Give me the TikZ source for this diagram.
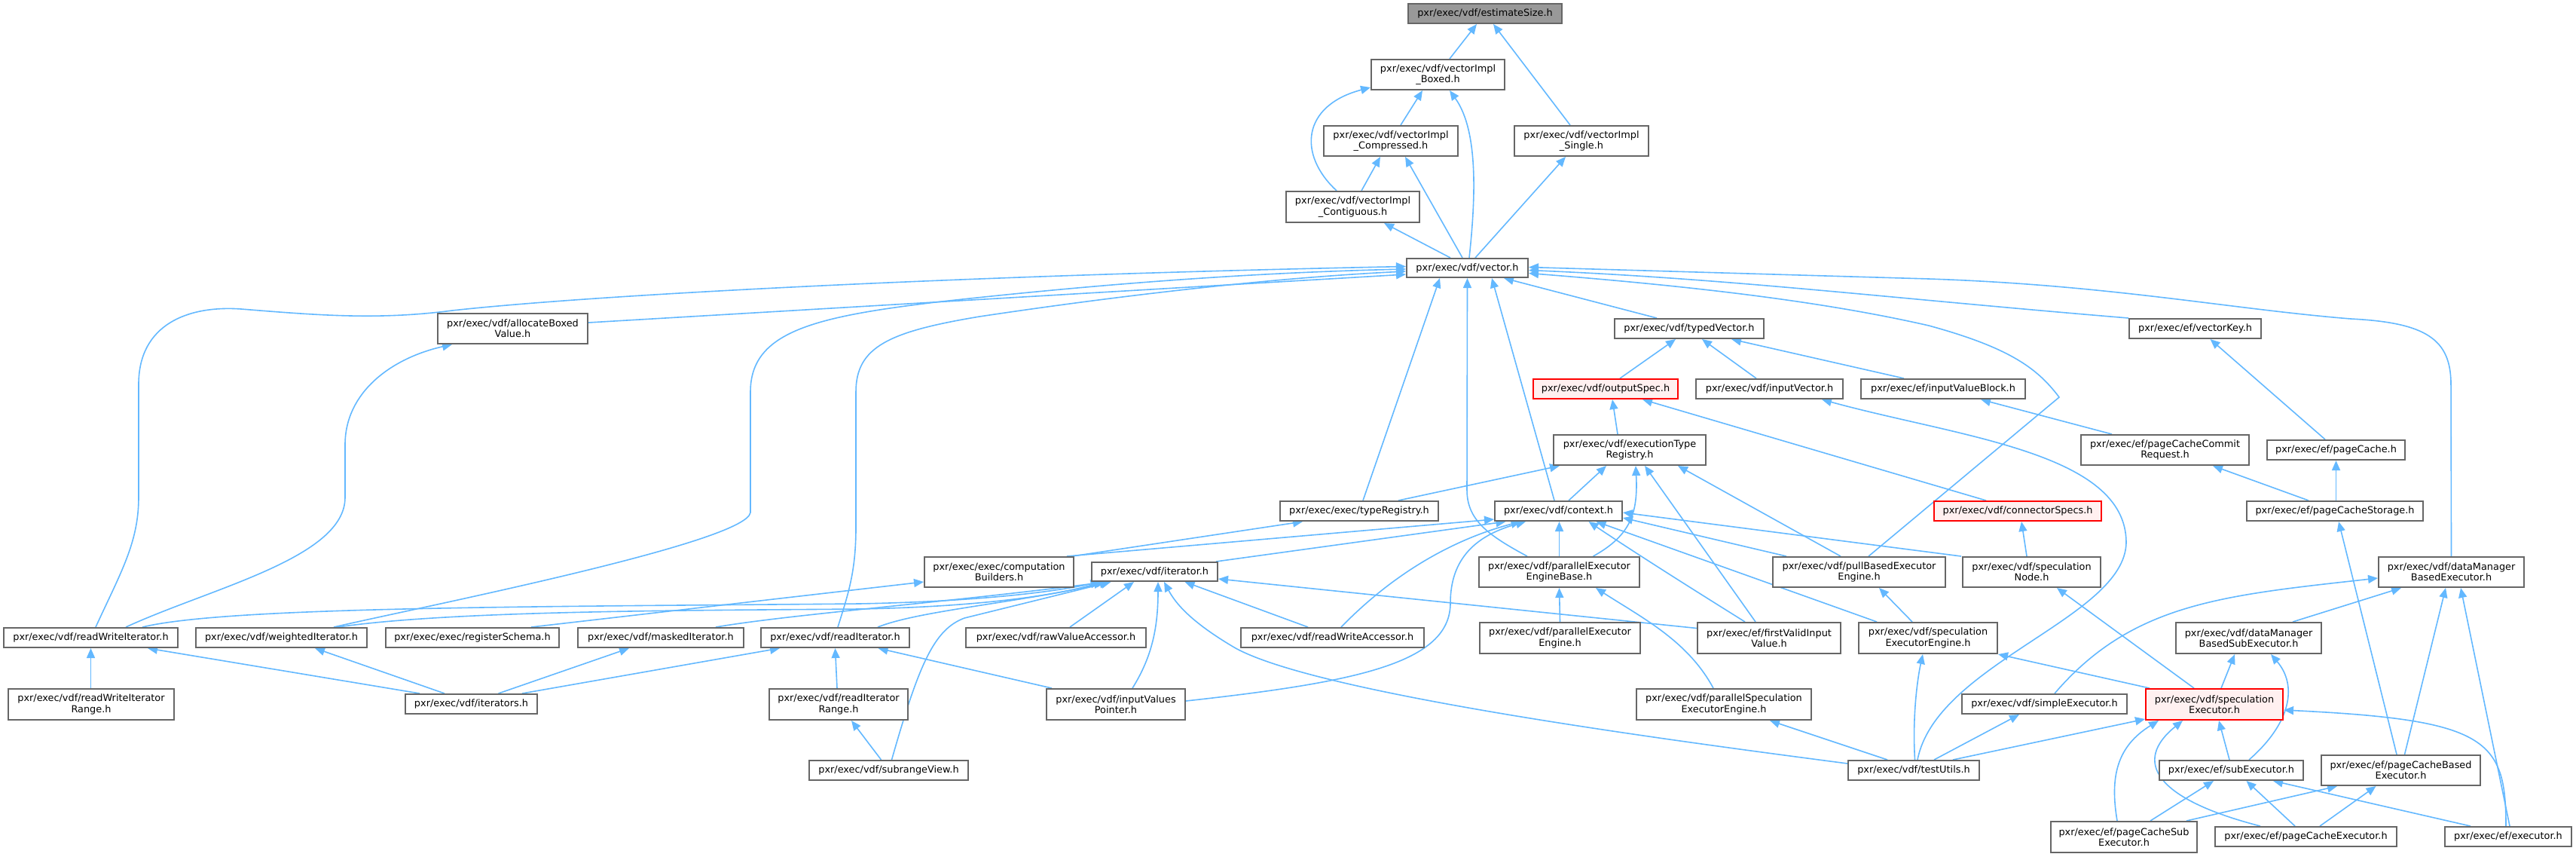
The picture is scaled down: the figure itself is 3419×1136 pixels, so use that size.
\documentclass[tikz,border=0pt]{standalone}
\usepackage{tikz}
\usepackage{fontspec}
\newfontfamily\dxfont{DejaVu Sans}
\usetikzlibrary{arrows.meta,calc}
\pgfdeclarelayer{bg}
\pgfsetlayers{bg,main}
\definecolor{edgeblue}{HTML}{63B8FF}
\definecolor{nodegray}{HTML}{666666}
\definecolor{rootfill}{HTML}{999999}
\definecolor{redfill}{HTML}{FFF0F0}
\tikzset{
 nd/.style={draw=nodegray, fill=white, line width=1pt, inner sep=0pt, align=center, font={\dxfont\fontsize{6.43pt}{7.15pt}\selectfont}},
 rootnd/.style={nd, fill=rootfill},
 rednd/.style={nd, draw=red, fill=redfill},
 edg/.style={draw=edgeblue, line width=0.8pt, -{Triangle[length=6.5pt,width=5.5pt]}}
}
\newcommand\dnode[7][nd]{\node[#1, minimum width={#5*0.5pt}, minimum height={#6*0.5pt}] (#2) at (#3,#4) {#7};}
\begin{document}
\begin{tikzpicture}[x=0.5pt,y=-0.5pt]
\useasboundingbox (0,0) rectangle (3419,1136);
\dnode[rootnd]{est}{1971}{18}{204}{26}{pxr/exec/vdf/estimateSize.h}
\dnode{boxed}{1908.5}{99}{177}{40}{pxr/exec/vdf/vectorImpl\\\_Boxed.h}
\dnode{compr}{1846}{187}{178}{40}{pxr/exec/vdf/vectorImpl\\\_Compressed.h}
\dnode{single}{2099}{187}{178}{40}{pxr/exec/vdf/vectorImpl\\\_Single.h}
\dnode{contig}{1795.5}{274.5}{177}{41}{pxr/exec/vdf/vectorImpl\\\_Contiguous.h}
\dnode{vector}{1947.5}{355.5}{161}{25}{pxr/exec/vdf/vector.h}
\dnode{alloc}{680.5}{436}{199}{40}{pxr/exec/vdf/allocateBoxed\\Value.h}
\dnode{typedv}{2242}{436}{198}{26}{pxr/exec/vdf/typedVector.h}
\dnode{vkey}{2913.5}{436}{175}{26}{pxr/exec/ef/vectorKey.h}
\dnode[rednd]{outspec}{2131}{516}{192}{26}{pxr/exec/vdf/outputSpec.h}
\dnode{inputvec}{2348.5}{516}{195}{26}{pxr/exec/vdf/inputVector.h}
\dnode{ivblock}{2579}{516}{218}{26}{pxr/exec/ef/inputValueBlock.h}
\dnode{exectr}{2163}{597}{202}{40}{pxr/exec/vdf/executionType\\Registry.h}
\dnode{pccr}{2873.5}{597}{223}{40}{pxr/exec/ef/pageCacheCommit\\Request.h}
\dnode{pcache}{3100.5}{597}{183}{26}{pxr/exec/ef/pageCache.h}
\dnode{typereg}{1804}{678}{210}{26}{pxr/exec/exec/typeRegistry.h}
\dnode{context}{2068.5}{678}{169}{26}{pxr/exec/vdf/context.h}
\dnode[rednd]{connspec}{2678}{678}{222}{26}{pxr/exec/vdf/connectorSpecs.h}
\dnode{pcstorage}{3099}{678}{234}{26}{pxr/exec/ef/pageCacheStorage.h}
\dnode{compb}{1326}{759}{198}{40}{pxr/exec/exec/computation\\Builders.h}
\dnode{iter}{1532.5}{758.5}{167}{25}{pxr/exec/vdf/iterator.h}
\dnode{pebase}{2069.5}{759}{213}{40}{pxr/exec/vdf/parallelExecutor\\EngineBase.h}
\dnode{pullb}{2467.5}{759}{229}{40}{pxr/exec/vdf/pullBasedExecutor\\Engine.h}
\dnode{specnode}{2696.5}{759}{183}{40}{pxr/exec/vdf/speculation\\Node.h}
\dnode{dmbe}{3253.5}{759}{193}{40}{pxr/exec/vdf/dataManager\\BasedExecutor.h}
\dnode{rwiter}{120.5}{846}{231}{26}{pxr/exec/vdf/readWriteIterator.h}
\dnode{witer}{373.5}{846}{227}{26}{pxr/exec/vdf/weightedIterator.h}
\dnode{regschema}{627}{846}{230}{26}{pxr/exec/exec/registerSchema.h}
\dnode{miter}{877}{846}{220}{26}{pxr/exec/vdf/maskedIterator.h}
\dnode{riter}{1108.5}{846}{197}{26}{pxr/exec/vdf/readIterator.h}
\dnode{rawva}{1401.5}{846}{239}{26}{pxr/exec/vdf/rawValueAccessor.h}
\dnode{rwacc}{1768.5}{846}{243}{26}{pxr/exec/vdf/readWriteAccessor.h}
\dnode{peng}{2070.5}{846.5}{213}{41}{pxr/exec/vdf/parallelExecutor\\Engine.h}
\dnode{fvi}{2348}{846.5}{190}{41}{pxr/exec/ef/firstValidInput\\Value.h}
\dnode{specee}{2559}{846.5}{184}{41}{pxr/exec/vdf/speculation\\ExecutorEngine.h}
\dnode{dmbse}{2984.5}{846.5}{193}{41}{pxr/exec/vdf/dataManager\\BasedSubExecutor.h}
\dnode{rwirange}{121}{934.5}{220}{41}{pxr/exec/vdf/readWriteIterator\\Range.h}
\dnode{iters}{625.5}{934}{175}{26}{pxr/exec/vdf/iterators.h}
\dnode{rirange}{1113}{934.5}{184}{41}{pxr/exec/vdf/readIterator\\Range.h}
\dnode{ivptr}{1481}{934.5}{184}{41}{pxr/exec/vdf/inputValues\\Pointer.h}
\dnode{pspecee}{2288}{934.5}{232}{41}{pxr/exec/vdf/parallelSpeculation\\ExecutorEngine.h}
\dnode{simpleex}{2713.5}{934}{219}{26}{pxr/exec/vdf/simpleExecutor.h}
\dnode[rednd]{specex}{2939}{934.5}{182}{41}{pxr/exec/vdf/speculation\\Executor.h}
\dnode{subrange}{1179.5}{1022}{211}{26}{pxr/exec/vdf/subrangeView.h}
\dnode{testutils}{2540}{1022}{174}{26}{pxr/exec/vdf/testUtils.h}
\dnode{subex}{2961.5}{1022}{191}{26}{pxr/exec/ef/subExecutor.h}
\dnode{pcbe}{3186.5}{1022}{211}{40}{pxr/exec/ef/pageCacheBased\\Executor.h}
\dnode{pcsubex}{2819}{1110.5}{194}{41}{pxr/exec/ef/pageCacheSub\\Executor.h}
\dnode{pcex}{3060.5}{1110}{241}{26}{pxr/exec/ef/pageCacheExecutor.h}
\dnode{executor}{3329}{1110}{168}{26}{pxr/exec/ef/executor.h}

\begin{pgfonlayer}{bg}
% top
\draw[edg] ($(boxed.north)+(15.5,0)$) -- ($(est.south)+(-11,0)$);
\draw[edg] ($(single.north)+(-15,0)$) -- ($(est.south)+(11,0)$);
\draw[edg] ($(compr.north)+(13,0)$) -- ($(boxed.south)+(-20.5,0)$);
\draw[edg] ($(contig.north)+(-21.5,0)$) .. controls (1722,205) and (1728,140) .. ($(boxed.south west)+(0,-4)$);
\draw[edg] ($(vector.north)+(2.5,0)$) .. controls (1960,250) and (1960,170) .. ($(boxed.south)+(15.5,0)$);
\draw[edg] ($(contig.north)+(11.5,0)$) -- ($(compr.south)+(-14,0)$);
\draw[edg] ($(vector.north)+(-6.5,0)$) -- ($(compr.south)+(19,0)$);
\draw[edg] ($(vector.north)+(-22.5,0)$) -- ($(contig.south)+(41.5,0)$);
\draw[edg] ($(vector.north)+(10.5,0)$) -- ($(single.south)+(-21,0)$);
% into vector.h
\draw[edg] ($(alloc.east)+(0,-8)$) -- ($(vector.west)+(0,8.5)$);
\draw[edg] ($(typedv.north)+(-43,0)$) -- ($(vector.south)+(48.5,0)$);
\draw[edg] (vkey.north west) .. controls (2500,395) and (2300,370) .. ($(vector.east)+(0,3)$);
\draw[edg] (dmbe.north) -- (3253,510) .. controls (3253,450) and (3220,428) .. (3120,423) .. controls (2960,410) and (2800,378) .. (2560,370) -- ($(vector.east)+(0,-1)$);
\draw[edg] ($(pullb.north)+(12.5,0)$) -- (2733,527) .. controls (2705,490) and (2670,462) .. (2560,432) .. controls (2420,400) and (2250,380) .. ($(vector.east)+(0,7)$);
\draw[edg] ($(rwiter.north)+(6.5,0)$) .. controls (160,760) and (184,720) .. (184,660) -- (184,510) .. controls (184,430) and (250,405) .. (320,410) .. controls (420,418) and (500,425) .. (600,412) .. controls (800,390) and (1300,365) .. ($(vector.west)+(0,-2)$);
\draw[edg] ($(witer.north)+(69.5,0)$) .. controls (560,805) and (990,720) .. (996,680) -- (996,520) .. controls (996,440) and (1080,420) .. (1250,400) .. controls (1450,378) and (1650,362) .. ($(vector.west)+(0,1.5)$);
\draw[edg] ($(riter.north)+(3.5,0)$) .. controls (1125,790) and (1136,760) .. (1136,700) -- (1136,520) .. controls (1136,460) and (1180,440) .. (1300,420) .. controls (1500,390) and (1700,368) .. ($(vector.west)+(0,4.5)$);
\draw[edg] ($(typereg.north)+(5,0)$) -- ($(vector.south)+(-36.5,0)$);
\draw[edg] ($(pebase.north)+(-42.5,0)$) .. controls (1975,710) and (1947,690) .. (1947,650) -- (vector.south);
\draw[edg] ($(context.north)+(-5.5,0)$) -- ($(vector.south)+(32.5,0)$);
% typedVector / outputSpec etc.
\draw[edg] ($(outspec.north)+(19,0)$) -- ($(typedv.south)+(-18,0)$);
\draw[edg] ($(inputvec.north)+(-17.5,0)$) -- ($(typedv.south)+(17,0)$);
\draw[edg] ($(ivblock.north)+(-52,0)$) -- ($(typedv.south)+(56,0)$);
\draw[edg] ($(exectr.north)+(-16,0)$) -- ($(outspec.south)+(9,0)$);
\draw[edg] ($(connspec.north)+(-42,0)$) -- ($(outspec.south)+(49,0)$);
\draw[edg] ($(testutils.north)+(5,0)$) .. controls (2570,880) and (2820,820) .. (2822,720) .. controls (2822,600) and (2600,580) .. ($(inputvec.south)+(69.5,0)$);
\draw[edg] ($(pccr.north)+(-70.5,0)$) -- ($(ivblock.south)+(50,0)$);
\draw[edg] ($(pcache.north)+(-14.5,0)$) -- ($(vkey.south)+(20,0)$);
\draw[edg] ($(pcstorage.north)+(-35,0)$) -- ($(pccr.south)+(63.5,0)$);
\draw[edg] ($(pcstorage.north)+(1.5,0)$) -- (pcache.south);
\draw[edg] ($(pcbe.north)+(-5.5,0)$) -- ($(pcstorage.south)+(5,0)$);
\draw[edg] ($(specnode.north)+(-6.5,0)$) -- ($(connspec.south)+(5,0)$);
% into executionTypeRegistry
\draw[edg] ($(typereg.north)+(52,0)$) -- ($(exectr.south)+(-93,0)$);
\draw[edg] ($(context.north)+(13.5,0)$) -- ($(exectr.south)+(-31,0)$);
\draw[edg] ($(pebase.north)+(45,0)$) .. controls (2165,710) and (2174,680) .. ($(exectr.south)+(8,0)$);
\draw[edg] ($(fvi.north)+(-18,0)$) -- ($(exectr.south)+(20,0)$);
\draw[edg] ($(pullb.north)+(-24.5,0)$) -- ($(exectr.south)+(64,0)$);
% into typeRegistry / context
\draw[edg] ($(compb.north east)+(-3,0)$) -- ($(typereg.south)+(-75,0)$);
\draw[edg] ($(compb.north east)+(-10,0)$) -- ($(context.south west)+(0,-3)$);
\draw[edg] ($(iter.north east)+(-3,0)$) -- ($(context.south)+(-70,0)$);
\draw[edg] ($(rwacc.north)+(11.5,0)$) .. controls (1850,760) and (1930,715) .. ($(context.south)+(-50,0)$);
\draw[edg] ($(ivptr.east)+(0,-4.5)$) .. controls (1800,905) and (1925,880) .. (1925,800) .. controls (1925,740) and (1960,710) .. ($(context.south)+(-43.5,0)$);
\draw[edg] (pebase.north) -- ($(context.south)+(1,0)$);
\draw[edg] ($(fvi.north)+(-32,0)$) .. controls (2260,790) and (2180,740) .. ($(context.south)+(40,0)$);
\draw[edg] ($(specee.north)+(-68,0)$) -- ($(context.south)+(50,0)$);
\draw[edg] ($(pullb.north)+(-96.5,0)$) -- ($(context.east)+(0,9)$);
\draw[edg] ($(specnode.north west)+(-1,0)$) -- ($(context.east)+(0,2)$);
% into iterator.h
\draw[edg] ($(rwiter.north)+(68.5,0)$) .. controls (300,805) and (700,805) .. (1140,801) .. controls (1300,798) and (1400,785) .. ($(iter.south)+(-72,0)$);
\draw[edg] ($(witer.north)+(74.5,0)$) .. controls (600,810) and (900,810) .. (1140,808) .. controls (1300,805) and (1400,790) .. ($(iter.south)+(-68,0)$);
\draw[edg] ($(miter.north)+(73,0)$) .. controls (1050,815) and (1250,800) .. ($(iter.south)+(-64,0)$);
\draw[edg] ($(riter.north)+(56.5,0)$) .. controls (1220,810) and (1350,800) .. ($(iter.south)+(-60,0)$);
\draw[edg] ($(rawva.north)+(18.5,0)$) -- ($(iter.south)+(-27.5,0)$);
\draw[edg] ($(rwacc.north)+(-32.5,0)$) -- ($(iter.south)+(40,0)$);
\draw[edg] ($(fvi.west)+(0,-13)$) -- ($(iter.south east)+(0,-4)$);
\draw[edg] ($(ivptr.north)+(22,0)$) .. controls (1530,870) and (1537,830) .. ($(iter.south)+(4.5,0)$);
\draw[edg] ($(subrange.north)+(4,0)$) .. controls (1220,880) and (1240,835) .. (1280,820) -- ($(iter.south)+(-58,0)$);
\draw[edg] ($(testutils.west)+(0,-9)$) .. controls (2200,980) and (1750,920) .. (1640,860) .. controls (1580,825) and (1560,800) .. ($(iter.south)+(12.5,0)$);
% lower left
\draw[edg] ($(iters.north)+(-68.5,0)$) -- ($(rwiter.south)+(75.5,0)$);
\draw[edg] ($(iters.north)+(-35.5,0)$) -- ($(witer.south)+(44.5,0)$);
\draw[edg] ($(iters.north)+(36,0)$) -- ($(miter.south)+(-42,0)$);
\draw[edg] ($(iters.north)+(67.5,0)$) -- ($(riter.south)+(-73.5,0)$);
\draw[edg] ($(rwirange.north)+(-0.5,0)$) -- (rwiter.south);
\draw[edg] ($(rirange.north)+(-2,0)$) -- (riter.south);
\draw[edg] ($(subrange.north)+(-10,0)$) -- ($(rirange.south)+(17,0)$);
\draw[edg] ($(ivptr.north west)+(8,0)$) -- ($(riter.south)+(57,0)$);
\draw[edg] ($(regschema.north)+(78,0)$) -- ($(compb.west)+(0,13)$);
\draw[edg] ($(rwiter.north)+(46.5,0)$) .. controls (280,780) and (458,740) .. (458,660) -- (458,590) .. controls (458,520) and (520,475) .. ($(alloc.south)+(-80.5,0)$);
% lower middle / right
\draw[edg] (peng.north) -- (pebase.south);
\draw[edg] ($(pspecee.north)+(-14,0)$) .. controls (2240,850) and (2180,820) .. ($(pebase.south)+(48.5,0)$);
\draw[edg] ($(specee.north)+(-21,0)$) -- ($(pullb.south)+(26.5,0)$);
\draw[edg] ($(testutils.north)+(1.5,0)$) .. controls (2538,950) and (2545,900) .. ($(specee.south)+(-7,0)$);
\draw[edg] ($(testutils.north)+(-35,0)$) -- ($(pspecee.south)+(61,0)$);
\draw[edg] ($(testutils.north)+(27,0)$) -- ($(simpleex.south)+(-33.5,0)$);
\draw[edg] ($(testutils.north)+(52,0)$) -- ($(specex.south west)+(0,-2)$);
\draw[edg] ($(specex.north west)+(6,0)$) -- (specee.south east);
\draw[edg] ($(specex.north)+(-27,0)$) -- ($(specnode.south)+(33.5,0)$);
\draw[edg] ($(specex.north)+(9,0)$) -- ($(dmbse.south)+(-18.5,0)$);
\draw[edg] ($(simpleex.north)+(13.5,0)$) .. controls (2830,800) and (2950,790) .. ($(dmbe.west)+(0,8)$);
\draw[edg] ($(dmbse.north)+(58.5,0)$) -- ($(dmbe.south)+(-66.5,0)$);
\draw[edg] ($(subex.north)+(-2.5,0)$) -- ($(specex.south)+(6,0)$);
\draw[edg] ($(subex.north)+(23.5,0)$) .. controls (3040,960) and (3050,910) .. ($(dmbse.south)+(29.5,0)$);
\draw[edg] ($(pcbe.north)+(5,0)$) -- ($(dmbe.south)+(-7.5,0)$);
\draw[edg] ($(executor.north)+(2,0)$) -- ($(dmbe.south)+(12.5,0)$);
\draw[edg] ($(executor.north)+(-3,0)$) .. controls (3326,980) and (3300,955) .. ($(specex.east)+(0,7.5)$);
\draw[edg] ($(executor.north)+(-50,0)$) -- ($(subex.south)+(55.5,0)$);
\draw[edg] ($(pcex.north)+(-14.5,0)$) -- ($(subex.south)+(20,0)$);
\draw[edg] ($(pcex.north)+(18.5,0)$) -- ($(pcbe.south)+(-33,0)$);
\draw[edg] ($(pcex.north)+(-60.5,0)$) .. controls (2860,1060) and (2830,1010) .. ($(specex.south)+(-42,0)$);
\draw[edg] ($(pcsubex.north)+(35,0)$) -- ($(subex.south)+(-23.5,0)$);
\draw[edg] ($(pcsubex.north)+(83,0)$) -- ($(pcbe.south)+(-84.5,0)$);
\draw[edg] ($(pcsubex.north)+(-9,0)$) .. controls (2800,1030) and (2810,990) .. ($(specex.south)+(-74,0)$);
\end{pgfonlayer}
\end{tikzpicture}
\end{document}
